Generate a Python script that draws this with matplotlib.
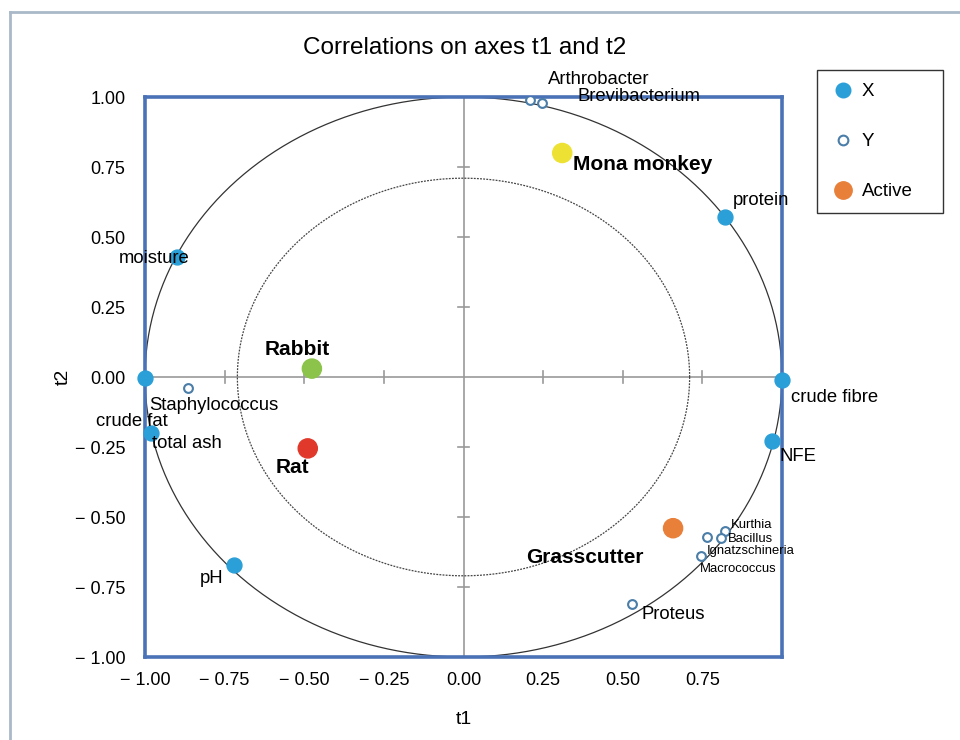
import numpy as np
import matplotlib
matplotlib.use("Agg")
import matplotlib.pyplot as plt
from matplotlib.lines import Line2D

plt.rcParams['font.family'] = ['Liberation Sans', 'DejaVu Sans']

# === Variables X (filled) ===
x_names = ["moisture", "crude fat", "total ash", "protein", "crude fibre", "NFE", "pH"]
x_t1 = [-0.90, -1.00, -0.98, 0.82, 1.00, 0.97, -0.72]
x_t2 = [0.43, -0.005, -0.20, 0.57, -0.01, -0.23, -0.67]
x_off = [(-23, -2), (-13, -43), (1, -11), (8, 17), (9, -18), (7, -15), (-23, -14)]
x_ha = ["center", "center", "left", "left", "left", "left", "center"]

# === Variables Y (open) ===
y_names = ["Arthrobacter", "Brevibacterium", "Staphylococcus", "Kurthia", "Bacillus",
           "Ignatzschineria", "Macrococcus", "Proteus"]
y_t1 = [0.21, 0.245, -0.865, 0.82, 0.81, 0.765, 0.745, 0.53]
y_t2 = [0.99, 0.98, -0.04, -0.55, -0.575, -0.572, -0.64, -0.81]
y_off = [(18, 20), (36, 6), (26, -17), (6, 6), (6, -1), (0, -14), (-1, -13), (9, -11)]
y_ha = ["left", "left", "center", "left", "left", "left", "left", "left"]
y_fs = [13.3, 13.3, 13.3, 9.4, 9.4, 9.4, 9.4, 13.3]

# === Active observations ===
act_names = ["Mona monkey", "Rabbit", "Rat", "Grasscutter"]
act_t1 = [0.31, -0.476, -0.489, 0.658]
act_t2 = [0.80, 0.03, -0.255, -0.54]
act_col = ["#EDE234", "#8CC34A", "#E0392B", "#E8803A"]
act_off = [(11, -12), (-15, 19), (-15, -19), (-88, -29)]
act_ha = ["left", "center", "center", "center"]

ticks = [-1.00, -0.75, -0.50, -0.25, 0.00, 0.25, 0.50, 0.75, 1.00]

fig = plt.figure(figsize=(9.6, 7.4), dpi=100)
ax = fig.add_axes([145 / 960, 1 - 657 / 740, 637 / 960, 560 / 740])

# cercles de corrélation
theta = np.linspace(0, 2 * np.pi, 400)
ax.plot(np.cos(theta), np.sin(theta), color="#333333", lw=0.9, zorder=1)
ax.plot(0.71 * np.cos(theta), 0.71 * np.sin(theta), color="#444444", lw=0.9,
        ls=(0, (1.5, 1)), zorder=1)

# axes centraux avec petites graduations
ax.axhline(0, color="#999999", lw=1.2, zorder=0)
ax.axvline(0, color="#999999", lw=1.2, zorder=0)
for t in ticks[1:-1]:
    if t == 0:
        continue
    ax.plot([t, t], [-0.02, 0.02], color="#999999", lw=1.2, zorder=0)
    ax.plot([-0.018, 0.018], [t, t], color="#999999", lw=1.2, zorder=0)

ax.scatter(x_t1, x_t2, s=115, color="#2B9FD8", zorder=3, clip_on=False)
for n, a, b, o, h in zip(x_names, x_t1, x_t2, x_off, x_ha):
    ax.annotate(n, (a, b), xytext=o, textcoords="offset pixels", ha=h, va="center",
                fontsize=13.3, zorder=5)

ax.scatter(y_t1, y_t2, s=40, facecolor="white", edgecolor="#4A7DA8", lw=1.5, zorder=3)
for n, a, b, o, h, f in zip(y_names, y_t1, y_t2, y_off, y_ha, y_fs):
    ax.annotate(n, (a, b), xytext=o, textcoords="offset pixels", ha=h, va="center",
                fontsize=f, zorder=5)

ax.scatter(act_t1, act_t2, s=190, color=act_col, zorder=4)
for n, a, b, o, h in zip(act_names, act_t1, act_t2, act_off, act_ha):
    ax.annotate(n, (a, b), xytext=o, textcoords="offset pixels", ha=h, va="center",
                fontsize=15, fontweight="bold", zorder=5)

ax.set_xlim(-1, 1)
ax.set_ylim(-1, 1)
ax.set_xticks(ticks[:-1])
ax.set_yticks(ticks)
ax.set_xticklabels([f"{t:.2f}".replace("-", "\u2212 ") for t in ticks[:-1]], fontsize=13)
ax.set_yticklabels([f"{t:.2f}".replace("-", "\u2212 ") for t in ticks], fontsize=13)
ax.tick_params(axis="x", length=0, pad=11)
ax.tick_params(axis="y", length=0, pad=14)
for s in ax.spines.values():
    s.set_color("#4A72B6")
    s.set_linewidth(2.6)

ax.set_xlabel("t1", fontsize=14, labelpad=15.5)
ax.set_ylabel("t2", fontsize=14, labelpad=2)
fig.text(465 / 960, 1 - 48 / 740, "Correlations on axes t1 and t2", ha="center",
         va="center", fontsize=17.5)

# légende
handles = [
    Line2D([], [], ls="", marker="o", ms=10.5, color="#2B9FD8"),
    Line2D([], [], ls="", marker="o", ms=7, mfc="white", mec="#4A7DA8", mew=1.5),
    Line2D([], [], ls="", marker="o", ms=12.5, color="#E8803A"),
]
leg = fig.legend(handles, ["X", "Y", "Active"], loc="upper left", mode="expand",
                 bbox_to_anchor=(817 / 960, 1 - 212 / 740, 126 / 960, 142 / 740),
                 borderaxespad=0, fontsize=13.5,
                 labelspacing=1.75, handletextpad=0.3, handlelength=1.4,
                 borderpad=0.7, fancybox=False, edgecolor="#333333", framealpha=1)
leg.get_frame().set_linewidth(1.0)

# cadre extérieur gris
fig.add_artist(Line2D([10 / 960, 10 / 960], [0, 1 - 12 / 740], color="#A9B9C9", lw=2))
fig.add_artist(Line2D([10 / 960, 1], [1 - 12 / 740, 1 - 12 / 740], color="#A9B9C9", lw=2))

fig.savefig("out.png", dpi=100)
